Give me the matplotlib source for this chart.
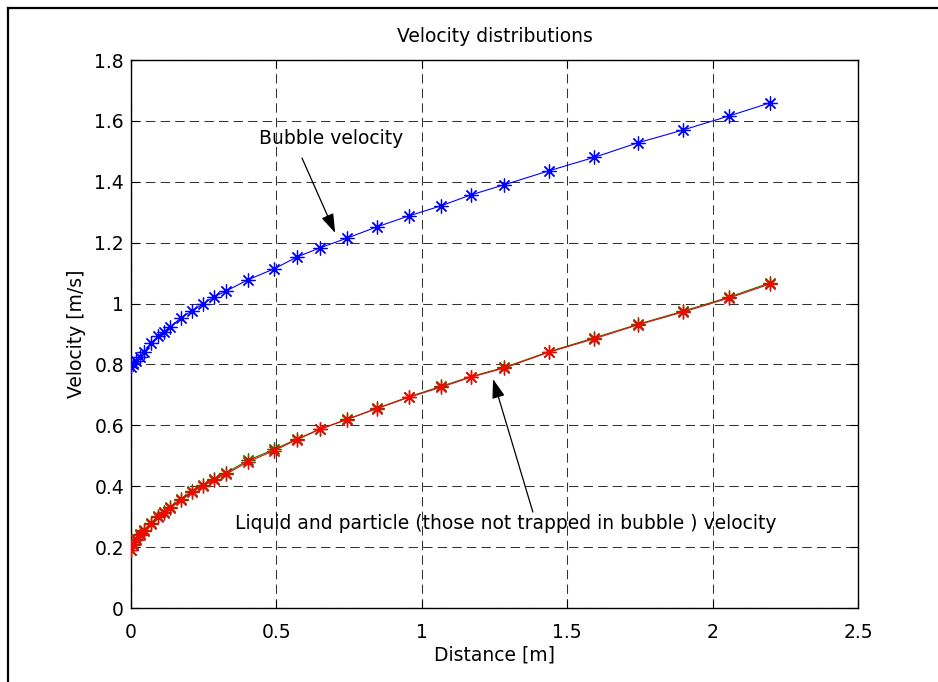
import matplotlib
matplotlib.use("Agg")
import matplotlib.pyplot as plt
from matplotlib.lines import Line2D
from matplotlib.ticker import FuncFormatter

plt.rcParams['font.family'] = ['DejaVu Sans']

distance = [0.0, 0.007, 0.017, 0.031, 0.045, 0.069, 0.093, 0.113, 0.134, 0.172,
            0.210, 0.248, 0.285, 0.327, 0.402, 0.492, 0.571, 0.650, 0.743, 0.846,
            0.956, 1.066, 1.169, 1.283, 1.437, 1.592, 1.743, 1.898, 2.056, 2.197]
bubble_velocity = [0.790, 0.800, 0.812, 0.825, 0.840, 0.871, 0.892, 0.907, 0.923, 0.953,
                   0.976, 0.999, 1.022, 1.041, 1.078, 1.114, 1.153, 1.183, 1.215, 1.252,
                   1.288, 1.321, 1.357, 1.390, 1.436, 1.480, 1.528, 1.570, 1.616, 1.659]
particle_velocity = [0.192, 0.209, 0.226, 0.243, 0.257, 0.280, 0.302, 0.316, 0.333, 0.358,
                     0.384, 0.404, 0.423, 0.444, 0.485, 0.521, 0.555, 0.588, 0.620, 0.656,
                     0.694, 0.728, 0.760, 0.790, 0.842, 0.887, 0.932, 0.975, 1.021, 1.068]
liquid_velocity = [0.190, 0.207, 0.223, 0.240, 0.253, 0.276, 0.298, 0.312, 0.329, 0.355,
                   0.381, 0.401, 0.420, 0.440, 0.480, 0.517, 0.553, 0.587, 0.619, 0.655,
                   0.692, 0.725, 0.758, 0.788, 0.840, 0.884, 0.930, 0.972, 1.018, 1.064]

x_ticks = [0, 0.5, 1, 1.5, 2, 2.5]
y_ticks = [0, 0.2, 0.4, 0.6, 0.8, 1.0, 1.2, 1.4, 1.6, 1.8]

FS = 13.5

fig = plt.figure(figsize=(9.38, 6.82), dpi=100)
ax = fig.add_axes([131/938, 74/682, 727/938, 548/682])

star = (8, 2, 0)
ax.plot(distance, bubble_velocity, color='#0000ff', lw=0.8, marker=star, ms=10, mew=0.9, zorder=3)
ax.plot(distance, particle_velocity, color='#008000', lw=0.8, marker=star, ms=10, mew=0.9, zorder=3)
ax.plot(distance, liquid_velocity, color='#ff0000', lw=0.8, marker=star, ms=10, mew=0.9, zorder=4)

ax.set_xlim(0, 2.5)
ax.set_ylim(0, 1.8)
ax.set_xticks(x_ticks)
ax.set_yticks(y_ticks)
fmt = FuncFormatter(lambda v, p: '%g' % round(v, 2))
ax.xaxis.set_major_formatter(fmt)
ax.yaxis.set_major_formatter(fmt)
ax.tick_params(direction='in', length=6, width=0.8, labelsize=FS, top=True, right=True)
ax.tick_params(axis='x', pad=11)
ax.tick_params(axis='y', pad=5)
ax.grid(True, color='#333333', lw=0.75, linestyle=(0, (9, 5)))
for s in ax.spines.values():
    s.set_linewidth(1.0)

ax.set_title('Velocity distributions', fontsize=FS, pad=13)
ax.set_xlabel('Distance [m]', fontsize=FS, labelpad=2)
ax.set_ylabel('Velocity [m/s]', fontsize=FS, labelpad=6)

arrow = dict(arrowstyle='-|>,head_length=0.9,head_width=0.3', mutation_scale=13,
             color='black', lw=0.9, shrinkA=0, shrinkB=0)
ax.annotate('', xy=(0.702, 1.232), xytext=(0.588, 1.478), arrowprops=arrow, zorder=5)
ax.text(0.44, 1.541, 'Bubble velocity', fontsize=FS, va='center', ha='left')
ax.annotate('', xy=(1.245, 0.752), xytext=(1.382, 0.315), arrowprops=arrow, zorder=5)
ax.text(0.358, 0.276, 'Liquid and particle (those not trapped in bubble ) velocity',
        fontsize=FS, va='center', ha='left')

fig.add_artist(Line2D([8/938, 8/938], [0, 1 - 8/682], transform=fig.transFigure,
                      color='black', lw=1.6))
fig.add_artist(Line2D([8/938, 1], [1 - 8/682, 1 - 8/682], transform=fig.transFigure,
                      color='black', lw=1.6))

fig.savefig('out.png', dpi=100)
